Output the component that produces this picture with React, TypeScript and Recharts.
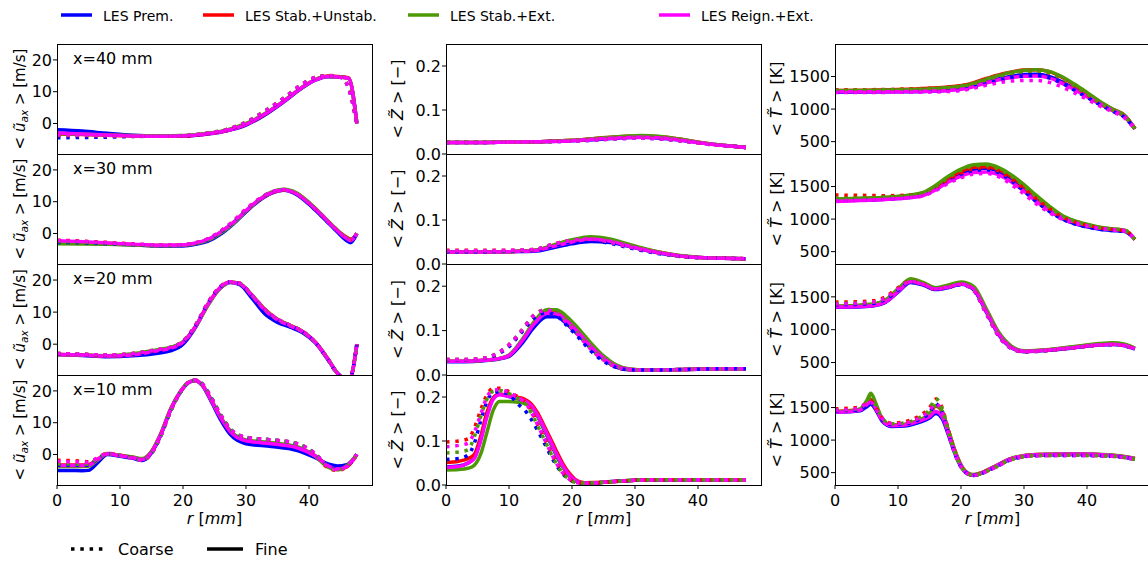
import React from 'react';
import { LineChart, Line, XAxis, YAxis } from 'recharts';

// ---------- u_ax [m/s] ----------
const U40_R = [0, 4, 8, 12, 16, 20, 24, 27, 30, 33, 36, 39, 41, 43, 45, 46.3, 47.6];
const U40_PREM_F = [-2.0, -2.4, -3.1, -3.7, -3.9, -3.9, -3.3, -2.3, -0.5, 2.7, 6.8, 11.3, 13.6, 14.7, 14.6, 14.2, 0];
const U40_STAB_F = [-3.3, -3.5, -3.7, -3.9, -4.0, -3.9, -3.2, -2.2, -0.3, 2.9, 7.0, 11.5, 13.8, 14.9, 14.7, 14.3, 0];
const U40_EXT_F = [-3.2, -3.4, -3.6, -3.8, -3.9, -3.8, -3.1, -2.0, 0, 3.1, 7.1, 11.5, 13.8, 14.8, 14.6, 14.2, 0];
const U40_REIGN_F = [-3.0, -3.3, -3.6, -3.9, -4.0, -3.9, -3.2, -2.2, -0.3, 3.0, 7.0, 11.5, 13.7, 14.8, 14.6, 14.2, 0];
const U40_PREM_C = [-4.5, -4.4, -4.3, -4.1, -4.0, -3.9, -3.1, -2.0, 0.3, 3.8, 7.9, 12.4, 14.4, 15.0, 14.5, 11.0, -0.5];
const U40_STAB_C = [-3.8, -3.8, -3.9, -4.0, -4.0, -3.9, -3.0, -1.9, 0.4, 3.9, 8.0, 12.5, 14.5, 15.1, 14.6, 11.2, -0.4];
const U40_EXT_C = [-3.7, -3.7, -3.8, -3.9, -3.9, -3.8, -2.9, -1.8, 0.5, 4.0, 8.0, 12.5, 14.5, 15.0, 14.6, 11.4, -0.3];
const U40_REIGN_C = [-3.6, -3.6, -3.8, -3.9, -4.0, -3.8, -3.0, -1.9, 0.4, 3.9, 8.0, 12.5, 14.5, 15.0, 14.5, 11.2, -0.4];

const U30_R = [0, 4, 8, 12, 16, 20, 22, 24, 26, 28, 30, 32, 34, 36, 38, 40, 42, 44, 46, 46.6, 47.6];
const U30_PREM_F = [-3.0, -3.1, -3.3, -3.6, -3.9, -3.9, -3.4, -2.4, -0.2, 3.0, 6.8, 10.2, 12.6, 13.6, 12.3, 9.2, 5.4, 1.5, -2.3, -2.9, 0];
const U30_STAB_F = [-2.6, -2.8, -3.1, -3.5, -3.8, -3.7, -3.1, -1.9, 0.4, 3.4, 7.1, 10.4, 12.8, 13.7, 12.6, 9.6, 5.9, 1.9, -1.2, -1.8, 0];
const U30_EXT_F = [-3.2, -3.3, -3.4, -3.6, -3.8, -3.7, -3.2, -2.1, 0.1, 3.2, 7.0, 10.5, 13.0, 13.9, 12.8, 9.8, 6.0, 2.0, -1.4, -2.0, 0];
const U30_REIGN_F = [-2.3, -2.6, -3.0, -3.4, -3.7, -3.6, -3.0, -1.8, 0.5, 3.5, 7.2, 10.5, 12.8, 13.7, 12.5, 9.5, 5.8, 1.8, -1.6, -2.2, 0];
const U30_PREM_C = [-2.8, -2.9, -3.2, -3.5, -3.8, -3.7, -3.1, -1.9, 0.5, 3.7, 7.4, 10.6, 12.9, 13.7, 12.4, 9.3, 5.5, 1.6, -1.9, -2.4, 0];
const U30_STAB_C = [-2.1, -2.4, -2.8, -3.3, -3.6, -3.5, -2.9, -1.6, 0.8, 3.9, 7.6, 10.7, 12.9, 13.7, 12.5, 9.5, 5.8, 1.9, -1.3, -1.9, 0];
const U30_EXT_C = [-2.5, -2.7, -3.0, -3.4, -3.7, -3.6, -3.0, -1.7, 0.7, 3.8, 7.5, 10.7, 13.0, 13.8, 12.6, 9.6, 5.9, 1.9, -1.5, -2.1, 0];
const U30_REIGN_C = [-2.2, -2.5, -2.9, -3.3, -3.6, -3.5, -2.9, -1.6, 0.8, 3.9, 7.6, 10.8, 13.0, 13.8, 12.5, 9.5, 5.8, 1.8, -1.6, -2.2, 0];

const U20_R = [0, 4, 8, 12, 16, 18, 20, 22, 24, 26, 27.5, 29, 31, 33, 35, 37, 39, 41, 43, 44.5, 46.4, 47.6];
const U20_PREM_F = [-3.2, -3.5, -3.9, -3.6, -2.8, -2.1, 0.0, 5.3, 12.5, 17.6, 19.2, 18.6, 14.2, 9.4, 6.8, 5.3, 3.6, 0.4, -4.8, -9.0, -11.0, 0];
const U20_STAB_F = [-3.2, -3.4, -3.7, -3.2, -2.0, -1.2, 0.7, 5.6, 12.6, 17.9, 19.4, 18.9, 15.2, 10.9, 7.8, 5.9, 4.0, 0.7, -4.5, -9.0, -11.0, 0];
const U20_EXT_F = [-3.2, -3.4, -3.6, -3.0, -1.7, -1.0, 0.8, 5.4, 12.2, 17.6, 19.3, 18.9, 15.1, 10.7, 7.7, 5.8, 3.9, 0.6, -4.6, -9.0, -11.0, 0];
const U20_REIGN_F = [-3.2, -3.4, -3.7, -3.3, -2.0, -1.3, 0.6, 5.5, 12.5, 17.8, 19.3, 18.8, 15.0, 10.6, 7.6, 5.7, 3.9, 0.6, -4.6, -9.0, -11.0, 0];
const U20_PREM_C = [-3.0, -3.2, -3.5, -3.1, -2.2, -1.5, 0.5, 5.8, 13.0, 18.0, 19.4, 18.9, 14.9, 10.2, 7.3, 5.6, 3.8, 0.5, -4.8, -9.2, -11.0, 0];
const U20_STAB_C = [-2.9, -3.1, -3.4, -2.9, -1.7, -1.0, 0.9, 6.0, 13.1, 18.1, 19.5, 19.0, 15.2, 10.8, 7.8, 5.9, 4.0, 0.6, -4.6, -9.0, -11.0, 0];
const U20_EXT_C = [-2.9, -3.1, -3.4, -2.9, -1.6, -0.9, 1.0, 6.0, 13.0, 18.0, 19.5, 19.0, 15.2, 10.8, 7.8, 5.9, 4.0, 0.6, -4.6, -9.0, -11.0, 0];
const U20_REIGN_C = [-2.9, -3.1, -3.4, -2.9, -1.7, -1.0, 0.9, 6.0, 13.1, 18.1, 19.5, 19.0, 15.2, 10.8, 7.8, 5.9, 4.0, 0.6, -4.6, -9.0, -11.0, 0];

const U10_R = [0, 2, 4, 5, 6.5, 8, 10, 12, 13.5, 15, 16.5, 18, 19.5, 21, 22, 23, 24.5, 26, 27.5, 30, 34, 38, 41, 43, 44.5, 46, 47.6];
const U10_PREM_F = [-5.0, -5.0, -5.1, -5.0, -2.5, 0.0, -0.6, -1.2, -1.9, 0.5, 6.2, 13.8, 19.3, 22.7, 23.2, 21.8, 16.6, 10.8, 6.3, 3.4, 2.5, 1.3, -1.0, -3.0, -3.6, -3.2, 0];
const U10_STAB_F = [-3.3, -3.3, -3.3, -3.2, -1.4, 0.3, -0.3, -0.9, -1.5, 0.9, 6.6, 14.1, 19.5, 22.8, 23.3, 22.0, 17.1, 11.6, 7.3, 4.4, 3.5, 2.3, -0.4, -3.6, -4.7, -3.9, 0];
const U10_EXT_F = [-3.8, -3.8, -3.8, -3.7, -1.7, 0.2, -0.3, -0.8, -1.3, 1.0, 6.7, 14.2, 19.6, 22.9, 23.3, 22.0, 17.1, 11.7, 7.5, 4.6, 3.7, 2.5, -0.6, -4.0, -4.8, -3.5, 0];
const U10_REIGN_F = [-3.5, -3.5, -3.5, -3.4, -1.5, 0.2, -0.4, -1.0, -1.6, 0.8, 6.5, 14.0, 19.5, 22.8, 23.3, 22.0, 17.0, 11.5, 7.2, 4.3, 3.4, 2.2, -0.5, -3.5, -4.6, -3.8, 0];
const U10_PREM_C = [-3.4, -3.4, -3.4, -3.3, -1.3, 0.3, -0.3, -1.1, -1.8, 0.3, 5.9, 13.4, 19.2, 22.8, 23.4, 22.3, 17.8, 12.4, 8.0, 5.4, 4.6, 3.5, 0.2, -3.6, -4.6, -3.7, 0];
const U10_STAB_C = [-1.8, -1.9, -2.1, -2.3, -1.0, 0.4, -0.2, -1.1, -1.8, 0.4, 6.0, 13.5, 19.3, 22.9, 23.4, 22.3, 17.8, 12.4, 8.0, 5.4, 4.6, 3.5, 0.1, -4.2, -5.0, -3.8, 0];
const U10_EXT_C = [-3.0, -3.0, -3.1, -3.1, -1.2, 0.3, -0.3, -1.1, -1.8, 0.4, 6.0, 13.5, 19.3, 22.9, 23.4, 22.3, 17.8, 12.4, 8.0, 5.4, 4.6, 3.5, 0.1, -3.9, -4.9, -3.6, 0];
const U10_REIGN_C = [-2.2, -2.3, -2.4, -2.5, -1.0, 0.3, -0.3, -1.2, -1.8, 0.4, 6.0, 13.5, 19.3, 22.9, 23.4, 22.3, 17.8, 12.4, 8.0, 5.4, 4.6, 3.5, 0.2, -3.8, -4.8, -3.6, 0];

// ---------- Z [-] ----------
const Z40_R = [0, 5, 10, 15, 20, 24, 28, 31, 34, 37, 40, 43, 46, 47.6];
const Z40_PREM_F = [0.026, 0.026, 0.027, 0.028, 0.030, 0.033, 0.037, 0.038, 0.036, 0.032, 0.026, 0.021, 0.017, 0.015];
const Z40_STAB_F = [0.026, 0.026, 0.027, 0.028, 0.031, 0.036, 0.040, 0.041, 0.039, 0.034, 0.027, 0.021, 0.017, 0.015];
const Z40_EXT_F = [0.026, 0.026, 0.027, 0.028, 0.031, 0.036, 0.040, 0.042, 0.040, 0.034, 0.027, 0.021, 0.017, 0.015];
const Z40_REIGN_F = [0.026, 0.026, 0.027, 0.028, 0.030, 0.034, 0.037, 0.038, 0.037, 0.032, 0.026, 0.021, 0.017, 0.015];
const Z40_PREM_C = [0.026, 0.026, 0.027, 0.028, 0.029, 0.032, 0.035, 0.036, 0.034, 0.030, 0.025, 0.020, 0.017, 0.015];
const Z40_STAB_C = [0.027, 0.027, 0.027, 0.028, 0.030, 0.033, 0.036, 0.037, 0.035, 0.031, 0.025, 0.021, 0.017, 0.015];
const Z40_EXT_C = [0.027, 0.027, 0.027, 0.028, 0.030, 0.033, 0.036, 0.037, 0.035, 0.031, 0.025, 0.021, 0.017, 0.015];
const Z40_REIGN_C = [0.026, 0.026, 0.027, 0.028, 0.029, 0.032, 0.035, 0.036, 0.034, 0.030, 0.025, 0.020, 0.017, 0.015];

const Z30_R = [0, 5, 10, 14, 17, 20, 23, 26, 29, 32, 35, 38, 41, 44, 47.6];
const Z30_PREM_F = [0.027, 0.027, 0.028, 0.029, 0.037, 0.046, 0.051, 0.049, 0.040, 0.030, 0.022, 0.017, 0.014, 0.013, 0.012];
const Z30_STAB_F = [0.027, 0.027, 0.028, 0.031, 0.042, 0.053, 0.059, 0.055, 0.043, 0.032, 0.024, 0.017, 0.014, 0.013, 0.012];
const Z30_EXT_F = [0.027, 0.027, 0.028, 0.031, 0.043, 0.055, 0.062, 0.057, 0.045, 0.033, 0.024, 0.018, 0.014, 0.013, 0.012];
const Z30_REIGN_F = [0.027, 0.027, 0.028, 0.030, 0.040, 0.050, 0.056, 0.052, 0.041, 0.031, 0.023, 0.017, 0.014, 0.013, 0.012];
const Z30_PREM_C = [0.028, 0.028, 0.029, 0.031, 0.041, 0.050, 0.053, 0.047, 0.037, 0.028, 0.021, 0.016, 0.014, 0.013, 0.012];
const Z30_STAB_C = [0.031, 0.031, 0.031, 0.033, 0.045, 0.054, 0.057, 0.050, 0.039, 0.030, 0.022, 0.017, 0.014, 0.013, 0.012];
const Z30_EXT_C = [0.030, 0.030, 0.030, 0.033, 0.045, 0.054, 0.058, 0.051, 0.040, 0.030, 0.022, 0.017, 0.014, 0.013, 0.012];
const Z30_REIGN_C = [0.030, 0.030, 0.031, 0.033, 0.045, 0.054, 0.057, 0.050, 0.039, 0.030, 0.022, 0.017, 0.014, 0.013, 0.012];

const Z20_R = [0, 3, 6, 8, 10, 12, 14, 16, 17.5, 19, 21, 23, 25, 27, 29, 32, 36, 40, 44, 47.6];
const Z20_PREM_F = [0.030, 0.030, 0.032, 0.035, 0.042, 0.070, 0.108, 0.131, 0.131, 0.117, 0.090, 0.060, 0.035, 0.018, 0.012, 0.011, 0.012, 0.013, 0.014, 0.014];
const Z20_STAB_F = [0.031, 0.031, 0.033, 0.036, 0.044, 0.077, 0.118, 0.142, 0.142, 0.129, 0.100, 0.068, 0.040, 0.021, 0.013, 0.011, 0.012, 0.013, 0.014, 0.014];
const Z20_EXT_F = [0.031, 0.031, 0.033, 0.036, 0.045, 0.078, 0.120, 0.147, 0.147, 0.134, 0.105, 0.072, 0.043, 0.023, 0.014, 0.011, 0.012, 0.013, 0.014, 0.014];
const Z20_REIGN_F = [0.031, 0.031, 0.033, 0.036, 0.044, 0.075, 0.115, 0.139, 0.138, 0.124, 0.096, 0.064, 0.038, 0.020, 0.013, 0.011, 0.012, 0.013, 0.014, 0.014];
const Z20_PREM_C = [0.034, 0.034, 0.037, 0.046, 0.064, 0.096, 0.128, 0.140, 0.134, 0.114, 0.085, 0.054, 0.031, 0.017, 0.012, 0.011, 0.012, 0.013, 0.014, 0.014];
const Z20_STAB_C = [0.035, 0.035, 0.038, 0.048, 0.068, 0.100, 0.135, 0.147, 0.141, 0.121, 0.091, 0.059, 0.034, 0.018, 0.012, 0.011, 0.012, 0.013, 0.014, 0.014];
const Z20_EXT_C = [0.035, 0.035, 0.038, 0.048, 0.068, 0.101, 0.136, 0.148, 0.142, 0.122, 0.092, 0.060, 0.035, 0.018, 0.012, 0.011, 0.012, 0.013, 0.014, 0.014];
const Z20_REIGN_C = [0.035, 0.035, 0.038, 0.048, 0.068, 0.100, 0.135, 0.146, 0.140, 0.120, 0.090, 0.058, 0.034, 0.018, 0.012, 0.011, 0.012, 0.013, 0.014, 0.014];

const Z10_R = [0, 2, 3.5, 4.5, 5.5, 6.5, 7.5, 8.5, 10, 11.5, 12.5, 13.5, 14.5, 15.5, 16.5, 17.5, 18.5, 19.5, 20.5, 22, 25, 30, 35, 40, 47.6];
const Z10_PREM_F = [0.041, 0.043, 0.050, 0.062, 0.105, 0.160, 0.197, 0.206, 0.201, 0.196, 0.190, 0.178, 0.157, 0.128, 0.098, 0.068, 0.042, 0.022, 0.010, 0.004, 0.006, 0.011, 0.012, 0.012, 0.012];
const Z10_STAB_F = [0.051, 0.054, 0.060, 0.070, 0.110, 0.165, 0.198, 0.206, 0.203, 0.199, 0.195, 0.185, 0.165, 0.137, 0.108, 0.078, 0.050, 0.028, 0.013, 0.005, 0.006, 0.011, 0.012, 0.012, 0.012];
const Z10_EXT_F = [0.034, 0.035, 0.038, 0.045, 0.070, 0.120, 0.170, 0.190, 0.190, 0.188, 0.185, 0.177, 0.158, 0.130, 0.100, 0.070, 0.043, 0.022, 0.010, 0.004, 0.006, 0.011, 0.012, 0.012, 0.012];
const Z10_REIGN_F = [0.040, 0.042, 0.050, 0.060, 0.100, 0.155, 0.195, 0.205, 0.201, 0.197, 0.192, 0.181, 0.160, 0.132, 0.102, 0.072, 0.045, 0.024, 0.011, 0.004, 0.006, 0.011, 0.012, 0.012, 0.012];
const Z10_PREM_C = [0.058, 0.060, 0.068, 0.095, 0.145, 0.190, 0.210, 0.212, 0.205, 0.183, 0.170, 0.150, 0.125, 0.098, 0.070, 0.045, 0.026, 0.013, 0.006, 0.004, 0.006, 0.011, 0.012, 0.012, 0.012];
const Z10_STAB_C = [0.098, 0.100, 0.105, 0.130, 0.170, 0.205, 0.220, 0.220, 0.212, 0.200, 0.190, 0.170, 0.140, 0.110, 0.080, 0.052, 0.030, 0.015, 0.007, 0.004, 0.006, 0.011, 0.012, 0.012, 0.012];
const Z10_EXT_C = [0.073, 0.075, 0.080, 0.110, 0.155, 0.195, 0.213, 0.215, 0.208, 0.196, 0.186, 0.165, 0.136, 0.106, 0.076, 0.049, 0.027, 0.014, 0.006, 0.004, 0.006, 0.011, 0.012, 0.012, 0.012];
const Z10_REIGN_C = [0.087, 0.090, 0.095, 0.120, 0.160, 0.200, 0.215, 0.217, 0.210, 0.198, 0.188, 0.167, 0.138, 0.108, 0.078, 0.050, 0.028, 0.014, 0.006, 0.004, 0.006, 0.011, 0.012, 0.012, 0.012];

// ---------- T [K] ----------
const T40_R = [0, 5, 10, 15, 18, 21, 24, 27, 30, 32, 34, 36, 38, 40, 42, 44, 46, 47.6];
const T40_PREM_F = [1260, 1262, 1266, 1275, 1290, 1330, 1410, 1485, 1530, 1535, 1500, 1420, 1310, 1200, 1085, 985, 885, 700];
const T40_STAB_F = [1285, 1290, 1300, 1320, 1340, 1380, 1470, 1550, 1600, 1605, 1575, 1490, 1370, 1240, 1110, 1000, 900, 700];
const T40_EXT_F = [1280, 1285, 1295, 1310, 1330, 1370, 1460, 1545, 1595, 1605, 1580, 1500, 1385, 1255, 1120, 1005, 900, 700];
const T40_REIGN_F = [1265, 1265, 1268, 1275, 1285, 1320, 1400, 1470, 1505, 1510, 1480, 1400, 1300, 1190, 1080, 980, 880, 700];
const T40_PREM_C = [1258, 1260, 1263, 1270, 1282, 1315, 1390, 1465, 1510, 1515, 1480, 1400, 1290, 1180, 1070, 970, 870, 695];
const T40_STAB_C = [1295, 1298, 1305, 1320, 1335, 1370, 1455, 1535, 1580, 1585, 1555, 1470, 1350, 1225, 1100, 990, 890, 695];
const T40_EXT_C = [1290, 1293, 1300, 1315, 1330, 1365, 1450, 1530, 1578, 1585, 1560, 1475, 1360, 1235, 1105, 995, 892, 695];
const T40_REIGN_C = [1255, 1255, 1258, 1262, 1270, 1300, 1365, 1420, 1440, 1440, 1410, 1340, 1250, 1150, 1050, 960, 860, 690];

const T30_R = [0, 4, 8, 12, 14, 16, 18, 20, 22, 24, 26, 28, 30, 32, 34, 36, 38, 40, 42, 44, 46, 47.6];
const T30_PREM_F = [1280, 1290, 1305, 1335, 1370, 1465, 1590, 1700, 1765, 1780, 1730, 1610, 1450, 1280, 1130, 1010, 930, 880, 845, 825, 810, 690];
const T30_STAB_F = [1300, 1315, 1330, 1365, 1400, 1500, 1630, 1730, 1795, 1805, 1760, 1650, 1500, 1335, 1180, 1045, 965, 910, 870, 845, 825, 690];
const T30_EXT_F = [1310, 1320, 1335, 1370, 1410, 1520, 1660, 1770, 1835, 1845, 1790, 1680, 1530, 1360, 1200, 1060, 975, 920, 875, 850, 830, 690];
const T30_REIGN_F = [1270, 1285, 1300, 1330, 1360, 1450, 1570, 1660, 1715, 1725, 1680, 1570, 1430, 1270, 1130, 1020, 950, 900, 860, 840, 820, 690];
const T30_PREM_C = [1290, 1295, 1308, 1335, 1365, 1450, 1570, 1675, 1740, 1760, 1710, 1590, 1430, 1265, 1120, 1005, 928, 878, 843, 823, 808, 688];
const T30_STAB_C = [1370, 1365, 1360, 1370, 1400, 1490, 1610, 1710, 1775, 1790, 1740, 1620, 1470, 1310, 1165, 1035, 958, 905, 866, 842, 822, 688];
const T30_EXT_C = [1320, 1325, 1338, 1368, 1405, 1505, 1640, 1750, 1815, 1825, 1770, 1655, 1505, 1340, 1185, 1050, 968, 915, 872, 848, 828, 688];
const T30_REIGN_C = [1280, 1290, 1305, 1330, 1360, 1440, 1550, 1635, 1690, 1700, 1650, 1530, 1385, 1230, 1100, 1000, 935, 890, 855, 835, 815, 688];

const T20_R = [0, 3, 6, 8, 10, 12, 14, 16, 18, 20, 22, 24, 26, 28, 30, 34, 38, 42, 44, 46, 47.6];
const T20_PREM_F = [1340, 1345, 1360, 1415, 1570, 1720, 1680, 1610, 1640, 1690, 1610, 1270, 920, 725, 665, 685, 725, 765, 775, 755, 705];
const T20_STAB_F = [1355, 1360, 1380, 1440, 1600, 1755, 1705, 1630, 1665, 1710, 1640, 1300, 945, 740, 675, 695, 740, 780, 790, 770, 715];
const T20_EXT_F = [1360, 1370, 1390, 1450, 1620, 1775, 1720, 1640, 1680, 1725, 1660, 1320, 960, 750, 680, 700, 745, 790, 800, 780, 720];
const T20_REIGN_F = [1345, 1350, 1365, 1420, 1580, 1730, 1690, 1620, 1650, 1695, 1620, 1280, 930, 730, 670, 690, 730, 770, 780, 760, 710];
const T20_PREM_C = [1380, 1385, 1400, 1460, 1600, 1725, 1685, 1610, 1640, 1685, 1595, 1245, 900, 712, 662, 682, 722, 762, 772, 752, 702];
const T20_STAB_C = [1420, 1425, 1440, 1500, 1640, 1740, 1695, 1620, 1650, 1695, 1605, 1255, 905, 718, 665, 685, 725, 765, 775, 755, 705];
const T20_EXT_C = [1400, 1405, 1420, 1480, 1625, 1740, 1698, 1625, 1655, 1700, 1610, 1260, 910, 720, 667, 687, 727, 767, 777, 757, 706];
const T20_REIGN_C = [1390, 1400, 1420, 1480, 1620, 1735, 1690, 1615, 1645, 1690, 1600, 1250, 900, 715, 665, 685, 725, 765, 775, 755, 705];

const T10_R = [0, 2, 4, 5, 5.7, 6.5, 7.5, 9, 11, 13, 15, 16, 17, 18, 19, 20, 21, 22, 23, 25, 28, 32, 38, 44, 47.6];
const T10_PREM_F = [1430, 1435, 1450, 1510, 1550, 1460, 1290, 1210, 1215, 1260, 1340, 1410, 1330, 1080, 800, 590, 485, 455, 480, 570, 710, 770, 780, 760, 710];
const T10_STAB_F = [1440, 1450, 1470, 1560, 1620, 1500, 1320, 1230, 1240, 1290, 1400, 1520, 1440, 1150, 850, 615, 495, 465, 490, 578, 718, 778, 788, 768, 718];
const T10_EXT_F = [1440, 1445, 1480, 1600, 1720, 1560, 1330, 1230, 1240, 1290, 1400, 1530, 1450, 1150, 850, 620, 500, 470, 490, 580, 720, 780, 790, 770, 720];
const T10_REIGN_F = [1430, 1435, 1460, 1540, 1590, 1480, 1300, 1220, 1230, 1280, 1360, 1440, 1360, 1100, 820, 600, 490, 460, 485, 575, 715, 775, 785, 765, 715];
const T10_PREM_C = [1450, 1455, 1470, 1530, 1560, 1465, 1310, 1240, 1250, 1300, 1420, 1560, 1420, 1100, 800, 590, 485, 458, 478, 560, 700, 760, 765, 750, 705];
const T10_STAB_C = [1480, 1490, 1510, 1570, 1600, 1490, 1340, 1260, 1280, 1350, 1500, 1630, 1500, 1150, 830, 600, 490, 460, 480, 562, 702, 762, 767, 752, 706];
const T10_EXT_C = [1460, 1465, 1490, 1580, 1650, 1520, 1335, 1250, 1265, 1325, 1470, 1640, 1480, 1130, 815, 595, 488, 459, 479, 561, 701, 761, 766, 751, 705];
const T10_REIGN_C = [1460, 1470, 1500, 1560, 1580, 1470, 1330, 1250, 1260, 1320, 1450, 1560, 1430, 1100, 800, 590, 485, 460, 480, 560, 700, 760, 765, 750, 705];

const X_TICKS = [0, 10, 20, 30, 40];
const STATIONS = ['x=40 mm', 'x=30 mm', 'x=20 mm', 'x=10 mm'];

const BLUE = '#0000ff';
const RED = '#ff0000';
const GREEN = '#4e9a06';
const MAGENTA = '#ff00ff';

const MODELS = [
  { key: 'prem', color: BLUE, label: 'LES Prem.' },
  { key: 'stab', color: RED, label: 'LES Stab.+Unstab.' },
  { key: 'ext', color: GREEN, label: 'LES Stab.+Ext.' },
  { key: 'reign', color: MAGENTA, label: 'LES Reign.+Ext.' },
];

const makeRows = (
  r: number[], pf: number[], pc: number[], sf: number[], sc: number[],
  ef: number[], ec: number[], rf: number[], rc: number[],
) =>
  r.map((x, i) => ({
    r: x,
    premF: pf[i], premC: pc[i], stabF: sf[i], stabC: sc[i],
    extF: ef[i], extC: ec[i], reignF: rf[i], reignC: rc[i],
  }));

// [column][row]
const PANELS = [
  [
    makeRows(U40_R, U40_PREM_F, U40_PREM_C, U40_STAB_F, U40_STAB_C, U40_EXT_F, U40_EXT_C, U40_REIGN_F, U40_REIGN_C),
    makeRows(U30_R, U30_PREM_F, U30_PREM_C, U30_STAB_F, U30_STAB_C, U30_EXT_F, U30_EXT_C, U30_REIGN_F, U30_REIGN_C),
    makeRows(U20_R, U20_PREM_F, U20_PREM_C, U20_STAB_F, U20_STAB_C, U20_EXT_F, U20_EXT_C, U20_REIGN_F, U20_REIGN_C),
    makeRows(U10_R, U10_PREM_F, U10_PREM_C, U10_STAB_F, U10_STAB_C, U10_EXT_F, U10_EXT_C, U10_REIGN_F, U10_REIGN_C),
  ],
  [
    makeRows(Z40_R, Z40_PREM_F, Z40_PREM_C, Z40_STAB_F, Z40_STAB_C, Z40_EXT_F, Z40_EXT_C, Z40_REIGN_F, Z40_REIGN_C),
    makeRows(Z30_R, Z30_PREM_F, Z30_PREM_C, Z30_STAB_F, Z30_STAB_C, Z30_EXT_F, Z30_EXT_C, Z30_REIGN_F, Z30_REIGN_C),
    makeRows(Z20_R, Z20_PREM_F, Z20_PREM_C, Z20_STAB_F, Z20_STAB_C, Z20_EXT_F, Z20_EXT_C, Z20_REIGN_F, Z20_REIGN_C),
    makeRows(Z10_R, Z10_PREM_F, Z10_PREM_C, Z10_STAB_F, Z10_STAB_C, Z10_EXT_F, Z10_EXT_C, Z10_REIGN_F, Z10_REIGN_C),
  ],
  [
    makeRows(T40_R, T40_PREM_F, T40_PREM_C, T40_STAB_F, T40_STAB_C, T40_EXT_F, T40_EXT_C, T40_REIGN_F, T40_REIGN_C),
    makeRows(T30_R, T30_PREM_F, T30_PREM_C, T30_STAB_F, T30_STAB_C, T30_EXT_F, T30_EXT_C, T30_REIGN_F, T30_REIGN_C),
    makeRows(T20_R, T20_PREM_F, T20_PREM_C, T20_STAB_F, T20_STAB_C, T20_EXT_F, T20_EXT_C, T20_REIGN_F, T20_REIGN_C),
    makeRows(T10_R, T10_PREM_F, T10_PREM_C, T10_STAB_F, T10_STAB_C, T10_EXT_F, T10_EXT_C, T10_REIGN_F, T10_REIGN_C),
  ],
];

const FONT = '"DejaVu Sans", "Liberation Sans", sans-serif';
const PLOT_W = 315;
const PAD = 12;
const XAXIS_H = 34;
const LW = 3.5;
const DOTS = '3.5 5.8';

const COLS = [
  { left: 57, axisW: 57, domain: [-9.6, 25], ticks: [0, 10, 20], fmt: (v: number) => String(v), labelX: 20 },
  { left: 446, axisW: 60, domain: [0, 0.25], ticks: [0, 0.1, 0.2], fmt: (v: number) => v.toFixed(1), labelX: 397 },
  { left: 835, axisW: 70, domain: [310, 2000], ticks: [500, 1000, 1500], fmt: (v: number) => String(v), labelX: 776 },
];
const ROWS = [
  { top: 44, h: 110 },
  { top: 154, h: 110 },
  { top: 264, h: 111 },
  { top: 375, h: 110 },
];

function Panel({ ci, ri }: { ci: number; ri: number }) {
  const col = COLS[ci];
  const row = ROWS[ri];
  const bottom = ri === ROWS.length - 1;
  const height = row.h + PAD * 2 + (bottom ? XAXIS_H : 0);
  const width = col.axisW + PLOT_W + 10;
  const tickStyle = { fill: '#000', fontSize: 16, fontFamily: FONT };
  return (
    <div style={{ position: 'absolute', left: col.left - col.axisW, top: row.top - PAD }}>
      <LineChart width={width} height={height} data={PANELS[ci][ri]}
        margin={{ top: PAD, right: 10, bottom: PAD, left: 0 }}>
        <XAxis dataKey="r" type="number" domain={[0, 50]} ticks={X_TICKS} interval={0}
          allowDataOverflow hide={!bottom} height={XAXIS_H} axisLine={false}
          stroke="#000" tickSize={4} tickMargin={6} tick={tickStyle} />
        <YAxis type="number" domain={col.domain} ticks={col.ticks} interval={0}
          allowDataOverflow width={col.axisW} axisLine={false}
          stroke="#000" tickSize={4} tickMargin={1} tick={tickStyle} tickFormatter={col.fmt} />
        {MODELS.map((m) => (
          <Line key={m.key + 'F'} dataKey={m.key + 'F'} type="monotone" stroke={m.color}
            strokeWidth={LW} dot={false} activeDot={false} isAnimationActive={false} />
        ))}
        {MODELS.map((m) => (
          <Line key={m.key + 'C'} dataKey={m.key + 'C'} type="monotone" stroke={m.color}
            strokeWidth={LW} strokeDasharray={DOTS} dot={false} activeDot={false} isAnimationActive={false} />
        ))}
      </LineChart>
    </div>
  );
}

function YLabel({ ci, cy }: { ci: number; cy: number }) {
  const x = COLS[ci].labelX;
  const t = `translate(${x},${cy}) rotate(-90)`;
  if (ci === 0) {
    return (
      <text transform={t} textAnchor="middle" dominantBaseline="central" fontSize={15}>
        {'< '}<tspan fontStyle="italic">ũ</tspan>
        <tspan fontStyle="italic" fontSize={10.5} dy={4}>ax</tspan>
        <tspan dy={-4}>{' > [m/s]'}</tspan>
      </text>
    );
  }
  if (ci === 1) {
    return (
      <text transform={t} textAnchor="middle" dominantBaseline="central" fontSize={16}>
        {'< '}<tspan fontStyle="italic">{'Z\u0303'}</tspan>{' > [\u2212]'}
      </text>
    );
  }
  return (
    <text transform={t} textAnchor="middle" dominantBaseline="central" fontSize={16}>
      {'< '}<tspan fontStyle="italic">{'T\u0303'}</tspan>{' > [K]'}
    </text>
  );
}

function Overlay() {
  const legendX = [61, 203, 408, 659];
  return (
    <svg width={1148} height={561} style={{ position: 'absolute', left: 0, top: 0, pointerEvents: 'none', fontFamily: FONT }}>
      {COLS.map((c, ci) =>
        ROWS.map((r, ri) => (
          <g key={`${ci}-${ri}`}>
            <rect x={c.left + 0.5} y={r.top + 0.5} width={PLOT_W} height={r.h} fill="none" stroke="#000" strokeWidth={1} />
            <YLabel ci={ci} cy={r.top + r.h / 2} />
            {ci === 0 && (
              <text x={73} y={r.top + 19.5} fontSize={16} fill="#000">{STATIONS[ri]}</text>
            )}
          </g>
        )),
      )}
      {COLS.map((c, ci) => (
        <text key={ci} x={c.left + PLOT_W / 2} y={524} textAnchor="middle" fontSize={16} fill="#000">
          <tspan fontStyle="italic">r</tspan>{' ['}<tspan fontStyle="italic">mm</tspan>{']'}
        </text>
      ))}
      {MODELS.map((m, i) => (
        <g key={m.key}>
          <line x1={legendX[i]} x2={legendX[i] + 31} y1={15} y2={15} stroke={m.color} strokeWidth={3.5} />
          <text x={legendX[i] + 42} y={20.5} fontSize={14} fill="#000">{m.label}</text>
        </g>
      ))}
      <line x1={71} x2={104} y1={549} y2={549} stroke="#000" strokeWidth={LW} strokeDasharray={DOTS} />
      <text x={118} y={555} fontSize={16} fill="#000">Coarse</text>
      <line x1={207} x2={243} y1={549} y2={549} stroke="#000" strokeWidth={LW} />
      <text x={255} y={555} fontSize={16} fill="#000">Fine</text>
    </svg>
  );
}

export default function App() {
  return (
    <div style={{ position: 'absolute', left: 0, top: 0, width: 1148, height: 561, overflow: 'hidden', background: '#fff', fontFamily: FONT }}>
      {COLS.map((_, ci) => ROWS.map((__, ri) => <Panel key={`${ci}-${ri}`} ci={ci} ri={ri} />))}
      <Overlay />
    </div>
  );
}
